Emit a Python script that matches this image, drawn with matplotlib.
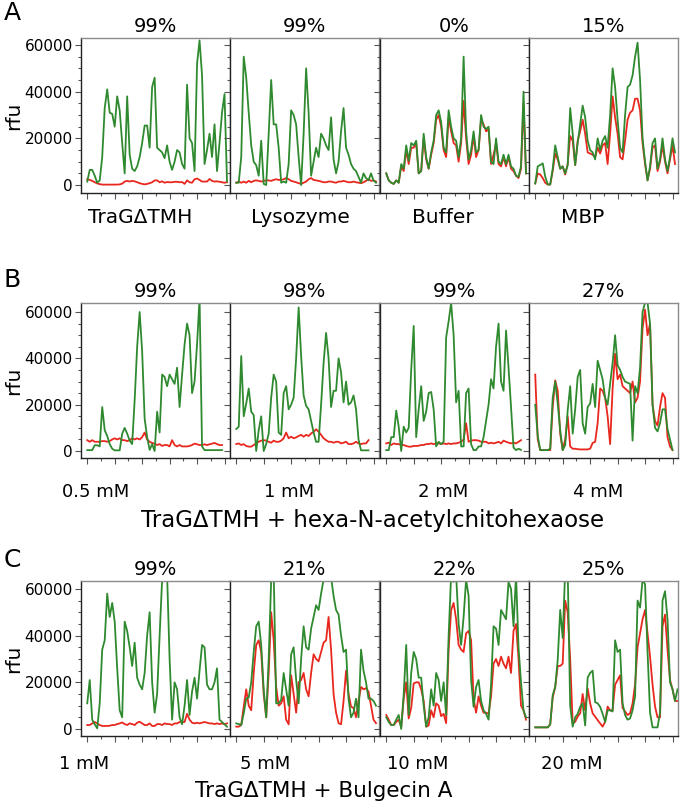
import numpy as np
import matplotlib
matplotlib.use("Agg")
import matplotlib.pyplot as plt
from matplotlib.ticker import MultipleLocator

plt.rcParams['font.family'] = ['DejaVu Sans']

# fluorescence traces, values in thousands of rfu
a1_green = [1.5, 6.5, 6.5, 4, 1, 2, 12, 33, 41, 31, 30.5, 25, 38, 32, 18, 5, 38, 13, 7, 6, 8, 12, 18, 25.5, 25.5, 16, 42, 46,
            16, 15, 14, 11.5, 17, 10, 6.5, 10, 15, 14, 9, 7, 43, 20, 18, 6, 52, 62, 47, 9, 15, 22, 12, 26, 6, 18, 31, 39, 1.5]
a1_red = [2.5, 2.2, 1.8, 1.2, 0.7, 0.4, 0.2, 0.2, 0.2, 0.2, 0.2, 0.2, 0.2, 0.3, 0.6, 1.5, 1.8, 1.5, 1.8, 1.6, 1.2, 0.8, 0.5,
          0.3, 0.5, 0.8, 1.2, 2.0, 2.0, 1.2, 1.6, 1.0, 1.3, 1.2, 1.2, 1.4, 1.4, 1.2, 1.3, 0.5, 2.0, 1.2, 1.0, 2.5, 2.8, 2.2,
          1.5, 1.5, 1.5, 2.6, 1.8, 1.5, 1.6, 1.4, 1.2, 1.0, 1.2]
a2_green = [1, 1, 12, 55, 46, 31, 17, 10, 8.5, 4, 19, 0.5, 0, 22, 45, 26, 26, 16, 1, 1.5, 1, 9, 32, 30, 26, 12, 0, 22, 50,
            31, 4, 10, 16, 12, 22, 20, 17, 15, 29, 11, 5, 10, 23, 33, 16, 13, 9, 7, 6, 3.5, 1, 5, 3, 2, 5, 2, 1]
a2_red = [1, 1.5, 1, 1.5, 1, 1.8, 1.2, 1.8, 2, 1.8, 1.5, 1.8, 2, 2, 1.8, 2.2, 2.5, 2.2, 2.2, 2.5, 3, 2.5, 1.8, 1.5, 1.2,
          0.8, 0.5, 1, 1.5, 2.5, 3, 2.2, 2, 1.8, 1.5, 1.2, 1.2, 1.5, 1.5, 1.2, 1, 1.5, 1.5, 1.8, 1.5, 1.2, 1.2, 1.5, 1.2,
          1, 0.8, 1.2, 1.8, 2.5, 1.8, 2, 1.5]
a3_green = [5, 2, 1, 0.5, 2, 1, 9, 7, 17, 10.5, 18, 17, 19, 5, 6, 22, 12, 7, 14, 19, 30, 32, 27, 16, 14, 32, 25, 20, 19, 12,
            20, 55, 23, 11, 15, 23, 14, 15, 30, 25, 24, 25, 10, 9, 20, 10, 9, 13, 9, 13, 8, 7, 4, 3.5, 8, 40, 5]
a3_red = [5, 2, 1, 0.5, 2, 1, 8, 6, 15, 9, 16, 16, 18, 5, 6, 20, 11, 7, 13, 18, 28, 30, 25, 15, 12, 29, 23, 18, 17, 10, 18,
          36, 20, 9, 13, 21, 12, 15, 28, 26, 23, 24, 9, 13, 18, 9, 8, 12, 8, 12, 7, 6, 4, 3, 7, 35, 5]
a4_green = [0.7, 8, 8.6, 9.3, 3.6, 0.3, 0.3, 7, 17, 12, 7, 8, 5, 8.5, 33, 22, 8.6, 18, 26, 34, 29, 19, 15, 14, 11, 20, 15,
            19, 21, 16, 30, 50, 42, 28, 16, 14, 30, 42, 43, 47, 55, 61, 45, 20, 10, 2, 8, 18, 20, 7, 11, 20, 11, 6, 12, 20, 14]
a4_red = [0.7, 5, 4.5, 3, 1, 0.2, 0.2, 6, 13.5, 11, 7, 8, 4.5, 9, 21, 19, 8.5, 19, 23, 28, 22, 14, 13.5, 13, 12, 16, 13.5,
          17, 18, 9, 22, 38, 29, 22, 12, 11, 19, 28, 31, 32, 37, 37, 32, 18, 9, 2, 7, 16, 17, 6, 10, 17, 10, 5, 11, 17, 9]

b1_green = [0.4, 0.4, 0.4, 2.5, 2.5, 2, 19, 9, 6.5, 3, 1, 0.3, 0.3, 0.3, 7.5, 10, 7.5, 4.5, 3, 22, 45, 60, 43, 14, 6, 0.5,
            3, 0, 17, 8, 33, 32, 28, 33, 31, 29, 36, 19, 33, 46, 55, 50, 25, 30, 46, 66, 2, 0.4, 0.4, 0.4, 0.4, 0.4, 0.4,
            0.4, 0.4]
b1_red = [4.7, 4, 4.7, 4, 4, 4, 4.3, 4.3, 4, 4.3, 5, 5.5, 5, 5.5, 4.7, 4.7, 4.3, 4.7, 5.5, 5, 5.5, 5, 6, 8, 5, 4, 3.5, 3.2,
          2.6, 3, 2.2, 2.6, 2.6, 2, 4.7, 2.6, 2, 2.6, 2, 2, 2, 2.2, 2.6, 3.2, 2.9, 2.6, 2.6, 2.9, 2.6, 2.9, 3.2, 3.5, 3,
          2.6, 2.6]
b2_green = [9.5, 10.5, 41, 15, 20.5, 27, 17, 15.5, 0, 9, 15, 0, 3, 7.5, 23, 33, 30, 8, 7, 25, 28, 18, 20, 23, 40, 62, 41,
            24, 19.5, 18, 13, 8, 4, 4, 20, 38, 51, 40, 19, 26, 26, 40, 34, 21, 30, 20, 21, 24, 18, 5, 0.3, 0.3, 0.3, 0.3]
b2_red = [3, 3.3, 2.6, 3, 2.2, 1.9, 1.9, 2.6, 3.3, 4, 4.5, 4.7, 4.5, 4, 3.6, 4.5, 4, 4, 4.5, 5.5, 8, 5.5, 6.2, 5.5, 5.9,
          6.5, 7, 6.2, 7, 6.5, 7.6, 8.3, 9.4, 8.3, 7, 5.5, 4.7, 4, 4, 3.6, 4, 4, 3.3, 3.6, 4, 3, 3, 3.3, 4, 3.3, 3, 3.3,
          3.3, 4.7]
b3_green = [0.4, 0.4, 6, 6, 17.5, 10.5, 0, 10.5, 8, 10, 35, 54, 6, 18, 28, 13, 17, 25, 25.5, 18, 2, 4, 3, 4, 49, 56, 64,
            50, 21, 26, 2, 2, 25, 27, 3, 0.4, 0.4, 2, 2, 6, 13, 20, 31, 27, 45, 55, 30, 26, 52, 36, 19, 1.5, 0.4, 1, 0.5]
b3_red = [3.3, 3.6, 2.6, 3.3, 3, 3, 2.6, 2.6, 2.2, 1.9, 1.9, 2.2, 2.2, 2.3, 2.6, 2.6, 3, 3, 3.3, 3, 3.3, 3.3, 3, 3.3, 3,
          3.3, 3, 3.3, 3.3, 3.6, 4, 5, 12, 4, 4.5, 4.7, 4.7, 4.5, 4, 4, 4, 3.3, 3.6, 3.3, 3.6, 4, 3.3, 4.5, 4, 3.6, 3.3,
          3.6, 3.3, 4, 4.7]
b4_green = [20, 6.5, 0.4, 0.4, 0.4, 0.4, 1, 23, 30, 20.5, 9, 0.4, 2.5, 17.5, 28, 7.5, 18, 32, 35, 12, 7.5, 19, 20.5, 29,
            19, 39, 35, 31, 23, 20, 29, 38, 50, 37, 35, 32, 30, 29.5, 29, 4.5, 28, 25, 36, 60, 64, 64, 55, 20, 10, 8.5, 12,
            18, 18, 9.5, 5, 0.5]
b4_red = [33, 5, 0.4, 0.4, 0.4, 0.4, 0.4, 19, 30.5, 26, 7.5, 0.4, 5, 15, 2, 1, 1, 0.8, 0.7, 0.7, 0.7, 0.7, 1, 3.5, 4, 12,
          27, 26, 23, 15, 3, 27, 42, 31, 33, 28, 27, 26, 25, 30, 21, 23, 30, 53, 61, 50, 55, 20, 13, 11, 19, 25, 23, 6, 2,
          0.4]

c1_green = [11, 21, 4, 2, 0.3, 11, 34, 38, 58, 48, 54, 46, 26, 8, 5, 46, 42, 35, 27, 37, 22, 19, 17, 24, 40, 50, 20, 7,
            15, 40, 64, 68, 66, 30, 4, 20, 17, 5, 2, 10, 21, 6, 16, 22, 13, 25, 36, 35, 19, 17, 17, 20, 26, 4, 3, 2, 1]
c1_red = [1.7, 1.7, 2.4, 3, 2.4, 1.7, 1.3, 1.3, 1.3, 1.4, 1.7, 1.7, 2.1, 2.4, 2.8, 2.1, 1.7, 2.4, 2.1, 1.7, 2.7, 3.1, 2.4,
          1.7, 1.7, 2.4, 1.3, 1.3, 2.1, 2.1, 1.7, 2.4, 2.1, 2.1, 1.7, 2.4, 2.4, 3, 3, 3, 6.5, 4, 2.7, 2.4, 2.7, 2.4, 2.7,
          3, 2.7, 2.4, 2.4, 2.1, 2.4, 2.1, 2.4, 2.1, 2.4]
c2_green = [2.4, 2.1, 1.7, 6.7, 13, 13.5, 20, 33, 44, 46, 36, 17, 5, 30, 64, 68, 11, 11, 12.5, 24, 17, 10, 32, 35, 21, 11,
            30, 44, 35, 34, 43, 48, 53, 51, 58, 64, 70, 70, 65, 57, 51, 49, 40, 33, 34, 13, 5, 7, 13, 5, 34, 25, 20, 13,
            13, 12, 10]
c2_red = [1, 1, 1.7, 9.6, 17, 10, 8, 24, 36, 38, 33, 15, 5, 24, 50, 38, 18, 10, 11, 14, 4, 2, 23, 15, 7, 20, 21, 24, 17,
          14, 24, 32, 30, 29, 33, 37, 38, 48, 34, 15, 7, 2.5, 2, 12, 25, 15, 9.6, 9, 5, 12, 18, 17, 17.5, 16, 10, 4, 2.5]
c3_green = [5, 3, 1.7, 1.7, 4, 6, 0, 15, 36, 6, 24, 33, 30, 22, 22, 10, 1, 5, 17, 10, 24, 21, 12, 20, 6, 40, 66, 63, 66,
            45, 36, 48, 64, 57, 21, 9.5, 18, 21, 12, 8, 6.5, 4, 19, 44, 43, 36, 51, 49, 47, 63, 60, 44, 66, 35, 20, 8, 5]
c3_red = [6, 4, 1.7, 1.7, 3, 4, 1, 13, 20, 4.5, 9, 19.5, 20, 20, 17, 12, 1, 1.5, 8, 5, 11, 10, 5.5, 6.5, 2.5, 34, 51, 54,
          47, 36, 34, 33, 41, 42, 38, 13, 7, 14, 10, 7, 7, 6.5, 14, 28, 30, 27, 31, 28, 26, 31, 24, 42, 45, 30, 10, 8, 4]
c4_green = [0.7, 0.7, 0.7, 0.7, 0.7, 0.7, 2, 14.5, 18, 29.5, 51, 39, 68, 68, 10, 1, 5, 6.5, 9.5, 11, 1.5, 22, 24, 25,
            11.5, 11, 9.5, 6.5, 3, 8, 8, 7.5, 38, 33, 34, 11, 6, 4, 4.5, 8, 14, 55, 52, 64, 62, 33, 7, 0.7, 0.7, 0.7, 7,
            55, 59, 47, 20, 17, 12, 17]
c4_red = [0.7, 0.7, 0.7, 0.7, 0.7, 0.7, 2, 13.5, 18, 27, 27, 28, 55, 50, 30, 2.4, 3.1, 5.3, 6.7, 15, 8, 17.4, 11, 6.7,
          5.3, 3.8, 2.4, 1, 3.1, 9.6, 8, 8, 19, 21, 23, 9, 7.5, 6, 6.7, 11, 19, 35, 41, 47, 51, 41, 31, 19, 9.6, 5, 5, 44,
          49, 34, 21, 17, 12, 12]

rows = [
    [(a1_green, a1_red), (a2_green, a2_red), (a3_green, a3_red), (a4_green, a4_red)],
    [(b1_green, b1_red), (b2_green, b2_red), (b3_green, b3_red), (b4_green, b4_red)],
    [(c1_green, c1_red), (c2_green, c2_red), (c3_green, c3_red), (c4_green, c4_red)],
]
percent_labels = [["99%", "99%", "0%", "15%"],
                  ["99%", "98%", "99%", "27%"],
                  ["99%", "21%", "22%", "25%"]]
row_letters = ["A", "B", "C"]
a_names = ["TraG\u0394TMH", "Lysozyme", "Buffer", "MBP"]
b_conc = ["0.5 mM", "1 mM", "2 mM", "4 mM"]
c_conc = ["1 mM", "5 mM", "10 mM", "20 mM"]
b_title = "TraG\u0394TMH + hexa-N-acetylchitohexaose"
c_title = "TraG\u0394TMH + Bulgecin A"

GREEN = "#2f8a2f"
RED = "#e8281e"
W, H = 680, 802

fig = plt.figure(figsize=(W / 100, H / 100), dpi=100)

row_top_px = [38, 303, 581]
row_h_px = 155
col_left_px = [81, 230, 380, 529]
col_w_px = 149
ylims = [(-3400, 63000), (-3000, 63900), (-3000, 63400)]


def fx(px):
    return px / W


def fy(py):
    return 1 - py / H


for r, row in enumerate(rows):
    for c, (green, red) in enumerate(row):
        ax = fig.add_axes([fx(col_left_px[c]), fy(row_top_px[r] + row_h_px), col_w_px / W, row_h_px / H])
        ax.plot(np.arange(len(red)), np.array(red) * 1000, color=RED, lw=1.3)
        ax.plot(np.arange(len(green)), np.array(green) * 1000, color=GREEN, lw=1.3)
        ax.set_xlim(-2.5, 57.2)
        ax.set_ylim(*ylims[r])
        ax.yaxis.set_major_locator(MultipleLocator(20000))
        ax.yaxis.set_minor_locator(MultipleLocator(5000))
        ax.xaxis.set_major_locator(MultipleLocator(11))
        ax.xaxis.set_minor_locator(MultipleLocator(5.5))
        ax.tick_params(which='both', direction='out', color='#555555', width=0.8)
        ax.tick_params(which='major', length=4)
        ax.tick_params(which='minor', length=2.5)
        ax.tick_params(axis='x', labelbottom=False)
        if c == 0:
            ax.tick_params(axis='y', labelsize=11, pad=2)
            ax.set_ylabel("rfu", fontsize=14.5, labelpad=1)
        else:
            ax.tick_params(axis='y', labelleft=False)
        for side in ['top', 'right']:
            ax.spines[side].set_color('#8a8a8a')
            ax.spines[side].set_linewidth(1.0)
        for side in ['left', 'bottom']:
            ax.spines[side].set_color('#222222')
            ax.spines[side].set_linewidth(1.0)
        ax.set_title(percent_labels[r][c], fontsize=14, pad=4)

# panel letters
for letter, ypx in zip(row_letters, [13, 280, 560]):
    fig.text(fx(12), fy(ypx), letter, fontsize=18, ha='center', va='center')

# row A sample names
for name, xpx in zip(a_names, [140, 300, 443, 583]):
    fig.text(fx(xpx), fy(217), name, fontsize=14.5, ha='center', va='center')

# row B concentrations + title
for name, xpx in zip(b_conc, [96, 289, 443, 598]):
    fig.text(fx(xpx), fy(492), name, fontsize=13, ha='center', va='center')
fig.text(fx(373), fy(521), b_title, fontsize=16.5, ha='center', va='center')

# row C concentrations + title
for name, xpx in zip(c_conc, [84, 265, 418, 572]):
    fig.text(fx(xpx), fy(764), name, fontsize=13, ha='center', va='center')
fig.text(fx(324), fy(801), c_title, fontsize=15.5, ha='center', va='bottom')

fig.savefig("out.png", dpi=100)
